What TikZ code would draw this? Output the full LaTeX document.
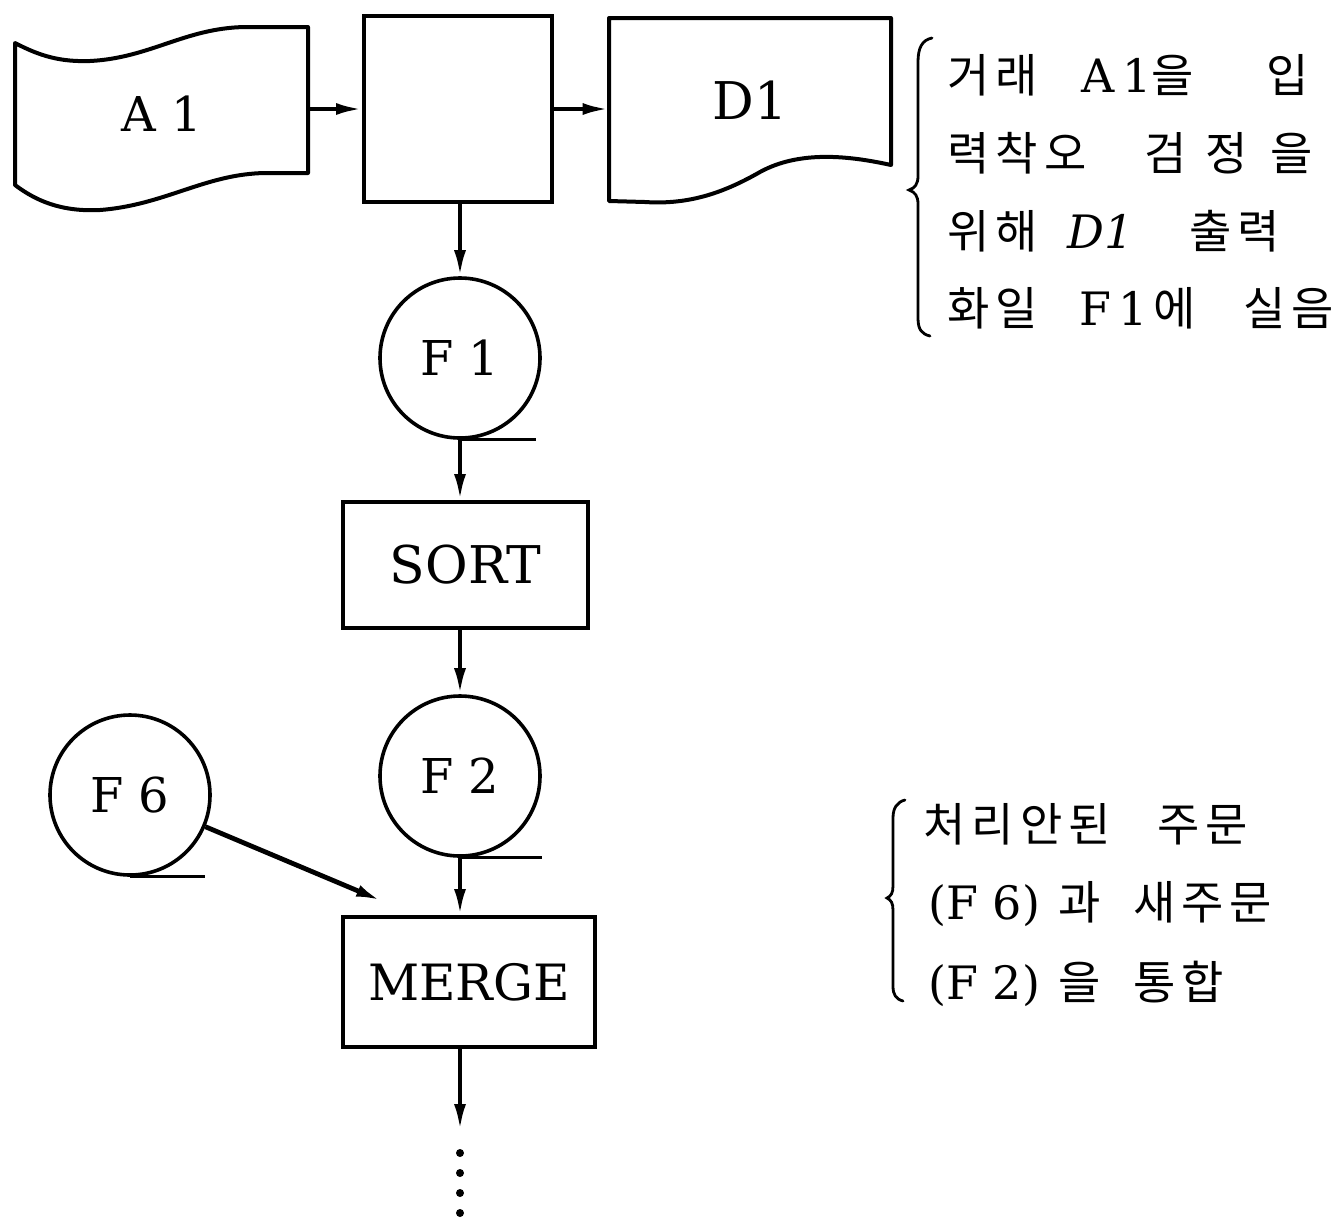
\documentclass[tikz,border=0pt]{standalone}
\usepackage{fontspec}
\setmainfont{DejaVu Serif}
\newfontfamily\kr[LetterSpace=13]{Noto Sans CJK KR}
\newcommand{\kw}[2]{\makebox[#1][l]{#2}}
\usetikzlibrary{arrows.meta}
\begin{document}
\begin{tikzpicture}[x=0.5pt,y=-0.5pt,
  boxlbl/.style={font=\fontsize{26}{26}\selectfont},
  procbox/.style={draw, line width=2pt, inner sep=0pt},
  outline/.style={draw, line width=2pt, line join=round},
  tapefile/.style={draw, line width=1.8pt, circle, minimum size=80pt, inner sep=0pt, font=\fontsize{24}{24}\selectfont},
  tail/.style={line width=1.6pt},
  arr/.style={line width=2pt, -{Latex[length=13pt,width=6pt]}},
  note/.style={anchor=base west, inner sep=0pt, font=\fontsize{23}{23}\selectfont},
  brace/.style={line width=1.4pt, line cap=round}
]
\useasboundingbox (0,0) rectangle (1340,1223);

% A1 (punched tape)
\path[outline] (15,43) .. controls (40,56) and (60,62) .. (90,61)
  .. controls (150,58) and (185,28) .. (245,27) -- (308,27) -- (308,173) -- (265,173)
  .. controls (205,174) and (165,205) .. (100,210)
  .. controls (60,212) and (35,200) .. (15,185) -- cycle;
\node[font=\fontsize{24}{24}\selectfont, minimum width=146.5pt, minimum height=60pt, inner sep=0pt] (A1) at (161.5,114) {A 1};

% process
\node[procbox, minimum width=94pt, minimum height=93pt] (P) at (458,109) {};

% D1 (document)
\path[outline] (609,18) -- (891,18) -- (891,165)
  .. controls (850,156) and (800,150) .. (760,172)
  .. controls (725,192) and (690,205) .. (645,202) -- (609,201) -- cycle;
\node[boxlbl, minimum width=141pt, minimum height=60pt, inner sep=0pt] (D1) at (750,100) {D1};

\draw[arr] (P.west -| A1.east) -- (P.west);
\draw[arr] (P.east) -- (P.east -| D1.west);

% chain
\node[tapefile] (F1) at (460,358) {F 1};
\draw[tail] (F1.south) -- ++(76,0);
\draw[arr] (F1.north |- P.south) -- (F1.north);

\node[procbox, boxlbl, minimum width=122.5pt, minimum height=63pt] (S) at (465.5,565) {SORT};
\draw[arr] (F1.south) -- (F1.south |- S.north);

\node[tapefile] (F2) at (460,776) {F 2};
\draw[tail] (F2.south) -- ++(82,0);
\draw[arr] (S.south -| F2) -- (F2.north);

\node[tapefile] (F6) at (130,795) {F 6};
\draw[tail] (F6.south) -- ++(75,0);

\node[procbox, font=\fontsize{25}{25}\selectfont, minimum width=126pt, minimum height=65pt] (M) at (469,982) {MERGE};
\draw[arr] (F2.south) -- (F2.south |- M.north);

\coordinate (m6) at (382,901);
\draw[arr, line width=2.4pt] (F6) -- (m6);

\coordinate (mb) at (460,1130);
\draw[arr] (M.south -| F2) -- (mb);
\coordinate (d1) at (460,1153);
\coordinate (d2) at (460,1223);
\draw[line width=4pt, line cap=round, dash pattern=on 0pt off 10pt] (d1) -- (d2);

% brace 1
\draw[brace] (932,38) .. controls (922,40) and (918,48) .. (918,62) -- (918,176)
  .. controls (918,184) and (915,188) .. (909,190)
  .. controls (915,192) and (918,196) .. (918,204) -- (918,318)
  .. controls (918,330) and (922,334) .. (930,336);
\node[note] (t1) at (947,92) {\kw{67pt}{\kr 거래}\kw{92.5pt}{A\,1{\kr 을}}{\kr 입}};
\node[note] (t2) at (947,170) {\kw{98.5pt}{\kr 력착오}\kw{30.5pt}{\kr 검}\kw{32.5pt}{\kr 정}{\kr 을}};
\node[note] (t3) at (947,248) {\kw{60pt}{\kr 위해}\kw{61pt}{\textit{D1}}{\kr 출력}};
\node[note] (t4) at (947,325) {\kw{66pt}{\kr 화일}\kw{37pt}{F\,1}\kw{45pt}{\kr 에}{\kr 실음}};

% brace 2
\draw[brace] (905,800) .. controls (897,802) and (893,808) .. (893,818) -- (893,886)
  .. controls (893,893) and (891,896) .. (887,898)
  .. controls (891,900) and (893,903) .. (893,910) -- (893,986)
  .. controls (893,995) and (896,999) .. (903,1001);
\node[note] (u1) at (923,841) {\kw{117pt}{\kr 처리안된}{\kr 주문}};
\node[note] (u2) at (928,919) {\kw{65pt}{(F 6)}\kw{37.5pt}{\kr 과}{\kr 새주문}};
\node[note] (u3) at (928,999) {\kw{65pt}{(F 2)}\kw{37.5pt}{\kr 을}{\kr 통합}};
\end{tikzpicture}
\end{document}
